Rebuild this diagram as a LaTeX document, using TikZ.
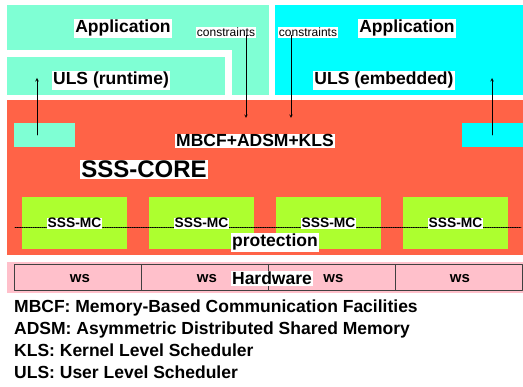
\documentclass[tikz,border=0pt]{standalone}
\usepackage{fontspec}
\setmainfont{Liberation Sans}
\definecolor{appaqua}{HTML}{7FFFD4}
\definecolor{appcyan}{HTML}{00FFFF}
\definecolor{corered}{HTML}{FF6347}
\definecolor{mcgreen}{HTML}{ADFF2F}
\definecolor{hwpink}{HTML}{FFC0CB}
\begin{document}
\begin{tikzpicture}[x=1pt, y=-1pt, line join=round, line cap=round, >=stealth,
		lbl/.style={fill=white, inner sep=1pt, anchor=base, font=\fontsize{17.5}{18}\selectfont\bfseries},
		smalllbl/.style={fill=white, inner sep=1pt, anchor=base, font=\fontsize{12}{12}\selectfont},
		mclbl/.style={fill=white, inner sep=0.5pt, anchor=base, font=\fontsize{13.8}{14}\selectfont\bfseries},
		wslbl/.style={anchor=base, font=\fontsize{15}{15}\selectfont\bfseries},
		legend/.style={anchor=base west, inner sep=0pt, font=\fontsize{17.5}{18}\selectfont\bfseries}]
		\useasboundingbox (0,0) rectangle (523,387);
		% application / user level
		\fill[appaqua] (7,5) rectangle (269,95);
		\fill[white] (0,50) rectangle (232,95);
		\fill[appaqua] (7,57) rectangle (225,95);
		\fill[appcyan] (275,5) rectangle (523,95);
		% core
		\fill[corered] (7,100) rectangle (523,255);
		\node[fill=appaqua, minimum width=61pt, minimum height=24pt, inner sep=0pt] (ulsbox) at (44.5,135) {};
		\node[fill=appcyan, minimum width=61pt, minimum height=24pt, inner sep=0pt] (embbox) at (492.5,135) {};
		\foreach \i in {1,...,4}
			\node[fill=mcgreen, minimum width=105pt, minimum height=52pt, inner sep=0pt] (mc\i) at ({74.5+127*(\i-1)},223) {};
		\draw[densely dotted, line width=0.8pt] (15,227) -- (521,227);
		\foreach \i in {1,...,4}
			\node[mclbl] (mclbl\i) at ({74.5+127*(\i-1)},228) {SSS-MC};
		% hardware
		\fill[hwpink] (7,262) rectangle (523,293);
		\foreach \i in {1,...,4}
			\node[draw=black!75, line width=0.8pt, fill=hwpink, minimum width=127pt, minimum height=26pt, inner sep=0pt] (ws\i) at ({78+127*(\i-1)},277) {};
		\foreach \i/\x in {1/80,2/207,3/333.5,4/460}
			\node[wslbl] (wslbl\i) at (\x,283) {ws};
		% labels
		\node[lbl] (appl) at (123,33) {Application};
		\node[lbl] (appr) at (407,33) {Application};
		\node[smalllbl] (consl) at (226,37) {constraints};
		\node[smalllbl] (consr) at (308,37) {constraints};
		\node[lbl] (ulsrt) at (111,85) {ULS (runtime)};
		\node[lbl] (ulsemb) at (384,85) {ULS (embedded)};
		\node[lbl] (mbcf) at (255,147) {MBCF+ADSM+KLS};
		\node[lbl, font=\fontsize{24}{24}\selectfont\bfseries] (core) at (144,178) {SSS-CORE};
		\node[lbl] (prot) at (275,247) {protection};
		\node[lbl] (hw) at (272,285) {Hardware};
		% arrows
		\coordinate (upl) at (37,78);
		\coordinate (upr) at (492,78);
		\coordinate (downl) at (246,118);
		\coordinate (downr) at (291,118);
		\draw[->, line width=0.6pt] (ulsbox.center -| upl) -- (upl);
		\draw[->, line width=0.6pt] (embbox.center -| upr) -- (upr);
		\draw[->, line width=0.6pt] (consl.south -| downl) ++(0,-3) -- (downl);
		\draw[->, line width=0.6pt] (consr.south -| downr) ++(0,-3) -- (downr);
		% legend
		\foreach \t [count=\i] in {MBCF: Memory-Based Communication Facilities, ADSM: Asymmetric Distributed Shared Memory, KLS: Kernel Level Scheduler, ULS: User Level Scheduler}
			\node[legend] (leg\i) at (14,{313+22*(\i-1)}) {\t};
	\end{tikzpicture}
\end{document}
